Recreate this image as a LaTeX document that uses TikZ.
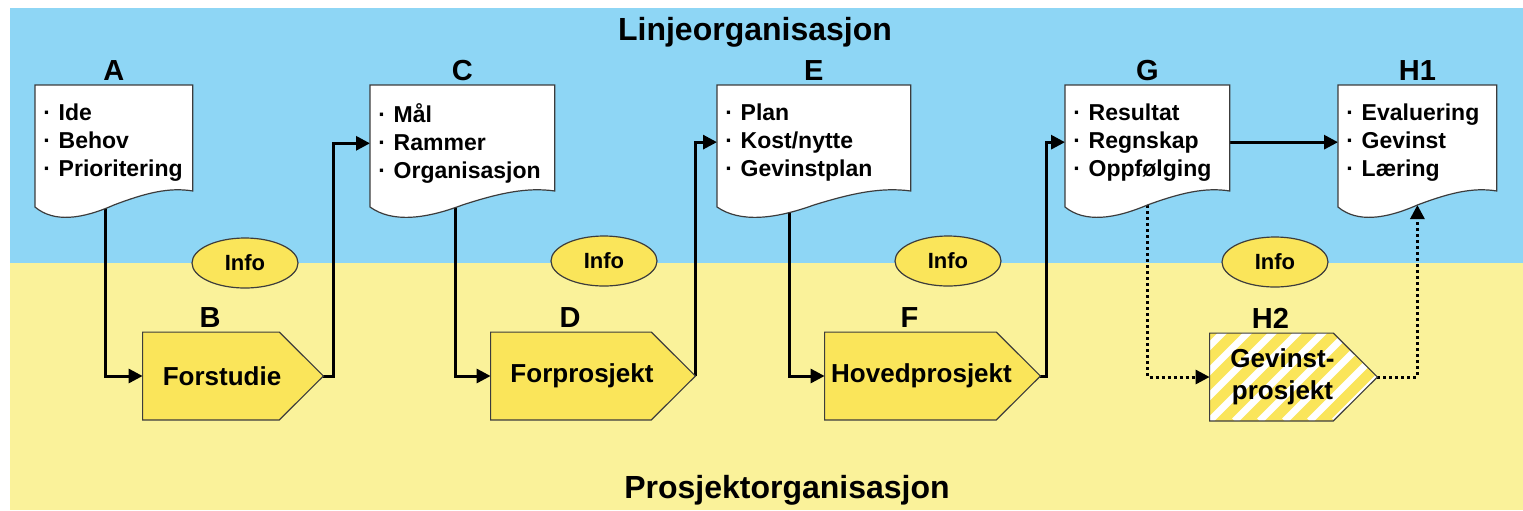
\documentclass[tikz,border=0pt]{standalone}
\usepackage{fontspec}
\setmainfont{Liberation Sans}
\usetikzlibrary{shapes.geometric,arrows.meta,calc}

\pgfdeclarelayer{back}
\pgfdeclarelayer{links}
\pgfdeclarelayer{shapes}
\pgfsetlayers{back,links,shapes,main}

\definecolor{skyblue}{RGB}{142,214,245}
\definecolor{paleyellow}{RGB}{250,242,154}
\definecolor{boxyellow}{RGB}{250,229,90}
\definecolor{edgegray}{RGB}{60,60,60}

% one line of a document box
\newcommand{\bul}[1]{\mbox{\textperiodcentered\ #1}}

% document outline with a wavy bottom, hung from the text node
\newcommand{\docshape}[1]{%
    \path[mydocline] let \p1=(#1.north west), \p2=(#1.north east), \n1={\x2-\x1} in
        (\p1) -- (\p2) -- (\x2,{\y2-53pt})
        .. controls ({\x2-0.15*\n1},{\y2-51pt}) and ({\x1+0.7*\n1},{\y1-54pt}) ..
        ({\x1+0.5*\n1},{\y1-60pt})
        .. controls ({\x1+0.3*\n1},{\y1-67pt}) and ({\x1+0.12*\n1},{\y1-69pt}) ..
        (\x1,{\y1-61pt}) -- cycle;}

% arrow shaped phase box
\newcommand{\stageshape}[2]{%
    \path[#2] (#1.north west) -- ([xshift=-11pt]#1.north east) --
        ([xshift=11pt]#1.east) -- ([xshift=-11pt]#1.south east) --
        (#1.south west) -- cycle;}

\begin{document}
\begin{tikzpicture}[%
            x=0.5pt, y=-0.5pt,
            mydoc/.style={anchor=north west, text width=#1, align=left,
                inner xsep=4pt, inner ysep=9pt, label distance=1pt,
                font=\fontsize{11.5}{14}\selectfont\bfseries},
            mydocline/.style={draw=edgegray, fill=white, line width=0.6pt},
            mystage/.style={rectangle, minimum width=#1, minimum height=43.5pt,
                inner sep=0pt, align=center, label distance=1pt,
                font=\fontsize{13}{16}\selectfont\bfseries},
            mystageline/.style={draw=edgegray, fill=boxyellow, line width=0.6pt},
            myinfo/.style={ellipse, draw=edgegray, fill=boxyellow, line width=0.6pt,
                minimum width=53pt, minimum height=25pt, inner sep=0pt,
                font=\fontsize{11}{13}\selectfont\bfseries},
            mylabel/.style={inner sep=2pt, font=\fontsize{14.5}{17}\selectfont\bfseries},
            mytitle/.style={font=\fontsize{16}{19}\selectfont\bfseries},
            myflow/.style={line width=1.5pt, -{Triangle[length=7pt,width=7pt]}},
            mydotted/.style={myflow, dash pattern=on 1.5pt off 1.5pt}
        ]
        \useasboundingbox (0,0) rectangle (1523,510);
        \begin{pgfonlayer}{back}
            \fill[skyblue] (10,8) rectangle (1523,263);
            \fill[paleyellow] (10,263) rectangle (1523,510);
        \end{pgfonlayer}

        \node[mytitle] (linje) at (755,32) {Linjeorganisasjon};
        \node[mytitle] (prosjekt) at (787,490) {Prosjektorganisasjon};

        % documents in the line organisation
        \node[mydoc=70.5pt, label={[mylabel]above:A}] (A) at (35,85)
            {\bul{Ide}\\ \bul{Behov}\\ \bul{Prioritering}};
        \node[mydoc=84pt, label={[mylabel]above:C}] (C) at (370,85)
            {\bul{Mål}\\ \bul{Rammer}\\ \bul{Organisasjon}};
        \node[mydoc=88.5pt, label={[mylabel]above:E}] (E) at (717,85)
            {\bul{Plan}\\ \bul{Kost/nytte}\\ \bul{Gevinstplan}};
        \node[mydoc=74pt, label={[mylabel]above:G}] (G) at (1065,85)
            {\bul{Resultat}\\ \bul{Regnskap}\\ \bul{Oppfølging}};
        \node[mydoc=71pt, label={[mylabel]above:H1}] (H1) at (1338,85)
            {\bul{Evaluering}\\ \bul{Gevinst}\\ \bul{Læring}};

        % phases in the project organisation
        \node[mystage=79pt, label={[mylabel,xshift=-6pt]above:B}] (B) at (222,376) {Forstudie};
        \node[mystage=91pt, label={[mylabel,xshift=-6pt]above:D}] (D) at (582,376) {Forprosjekt};
        \node[mystage=96.5pt, label={[mylabel,xshift=-6pt]above:F}] (F) at (921.5,376) {Hovedprosjekt};
        \node[mystage=72.5pt, label={[mylabel,xshift=-6pt]above:H2}] (H2) at (1282.5,377) {Gevinst-\\prosjekt};

        \node[myinfo] (info1) at (245,263) {Info};
        \node[myinfo] (info2) at (604,261) {Info};
        \node[myinfo] (info3) at (948,261) {Info};
        \node[myinfo] (info4) at (1275,262) {Info};

        \coordinate (Btip) at ([xshift=11pt]B.east);
        \coordinate (Dtip) at ([xshift=11pt]D.east);
        \coordinate (Ftip) at ([xshift=11pt]F.east);
        \coordinate (H2tip) at ([xshift=11pt]H2.east);
        \coordinate (H1in) at ([yshift=-60pt]H1.north);

        \begin{pgfonlayer}{shapes}
            \foreach \d in {A,C,E,G,H1} {\docshape{\d}}
            \foreach \s in {B,D,F} {\stageshape{\s}{mystageline}}
            \begin{scope}
                \stageshape{H2}{clip}
                \fill[boxyellow] (H2.north west) rectangle (H2tip |- H2.south);
                \foreach \k in {-7,...,7}
                    \draw[white, line width=3.5pt] ([xshift=\k*12.5pt]H2.south west) -- ++(100,-100);
            \end{scope}
            \stageshape{H2}{draw=edgegray, line width=0.6pt}
        \end{pgfonlayer}

        \begin{pgfonlayer}{links}
            \draw[myflow] ([xshift=-4pt]A.south) |- (B.west);
            \draw[myflow] (Btip) -- ++(10,0) |- (C.west);
            \draw[myflow] ([xshift=-3.5pt]C.south) |- (D.west);
            \draw[myflow] (Dtip) |- (E.west);
            \draw[myflow] ([xshift=-12pt]E.south) |- (F.west);
            \draw[myflow] (Ftip) -- ++(6,0) |- (G.west);
            \draw[myflow] (G.east) -- (H1.west);
            \draw[mydotted] (G.south) |- (H2.west);
            \draw[mydotted] (H2tip) -| (H1in);
        \end{pgfonlayer}
    \end{tikzpicture}
\end{document}
